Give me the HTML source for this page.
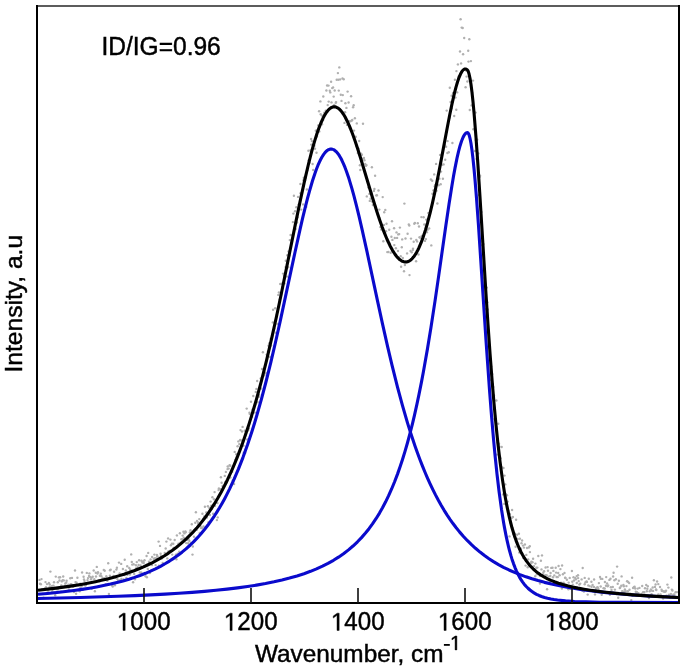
<!DOCTYPE html>
<html><head><meta charset="utf-8"><style>
html,body{margin:0;padding:0;background:#fff;}
body{width:685px;height:669px;overflow:hidden;}
svg{display:block;will-change:transform;font-family:"Liberation Sans",sans-serif;}
</style></head><body>
<svg width="685" height="669" viewBox="0 0 685 669">
<rect width="685" height="669" fill="#fff"/>
<g fill="#b0b0b0"><circle cx="39.5" cy="579.9" r="1.2"/><circle cx="40.0" cy="583.7" r="1.2"/><circle cx="40.9" cy="584.3" r="1.2"/><circle cx="41.5" cy="579.1" r="1.2"/><circle cx="42.1" cy="589.2" r="1.2"/><circle cx="42.6" cy="593.9" r="1.2"/><circle cx="43.5" cy="597.7" r="1.2"/><circle cx="44.9" cy="588.4" r="1.2"/><circle cx="45.5" cy="582.1" r="1.2"/><circle cx="46.0" cy="587.3" r="1.2"/><circle cx="47.0" cy="584.1" r="1.2"/><circle cx="47.3" cy="592.8" r="1.2"/><circle cx="48.2" cy="590.5" r="1.2"/><circle cx="48.9" cy="583.0" r="1.2"/><circle cx="49.5" cy="587.2" r="1.2"/><circle cx="49.7" cy="584.5" r="1.2"/><circle cx="50.4" cy="571.6" r="1.2"/><circle cx="51.1" cy="586.7" r="1.2"/><circle cx="52.2" cy="585.9" r="1.2"/><circle cx="52.4" cy="591.3" r="1.2"/><circle cx="53.5" cy="585.7" r="1.2"/><circle cx="54.0" cy="582.2" r="1.2"/><circle cx="54.6" cy="592.5" r="1.2"/><circle cx="55.2" cy="595.3" r="1.2"/><circle cx="55.8" cy="576.6" r="1.2"/><circle cx="56.5" cy="589.1" r="1.2"/><circle cx="57.6" cy="589.4" r="1.2"/><circle cx="57.8" cy="582.3" r="1.2"/><circle cx="58.9" cy="577.4" r="1.2"/><circle cx="59.5" cy="580.5" r="1.2"/><circle cx="60.1" cy="577.2" r="1.2"/><circle cx="61.0" cy="591.6" r="1.2"/><circle cx="61.3" cy="585.4" r="1.2"/><circle cx="61.8" cy="581.4" r="1.2"/><circle cx="62.7" cy="580.3" r="1.2"/><circle cx="63.2" cy="576.5" r="1.2"/><circle cx="63.8" cy="580.4" r="1.2"/><circle cx="65.1" cy="585.8" r="1.2"/><circle cx="65.3" cy="583.5" r="1.2"/><circle cx="66.2" cy="582.6" r="1.2"/><circle cx="66.6" cy="580.7" r="1.2"/><circle cx="67.1" cy="585.7" r="1.2"/><circle cx="68.4" cy="584.7" r="1.2"/><circle cx="68.9" cy="589.5" r="1.2"/><circle cx="69.6" cy="590.6" r="1.2"/><circle cx="70.3" cy="578.3" r="1.2"/><circle cx="70.7" cy="584.2" r="1.2"/><circle cx="71.4" cy="584.2" r="1.2"/><circle cx="72.0" cy="577.9" r="1.2"/><circle cx="73.0" cy="586.6" r="1.2"/><circle cx="73.3" cy="586.5" r="1.2"/><circle cx="74.0" cy="592.1" r="1.2"/><circle cx="75.0" cy="570.5" r="1.2"/><circle cx="75.5" cy="582.1" r="1.2"/><circle cx="76.1" cy="593.7" r="1.2"/><circle cx="76.6" cy="582.7" r="1.2"/><circle cx="77.4" cy="577.7" r="1.2"/><circle cx="78.4" cy="589.9" r="1.2"/><circle cx="78.5" cy="585.3" r="1.2"/><circle cx="79.7" cy="591.3" r="1.2"/><circle cx="80.3" cy="583.8" r="1.2"/><circle cx="80.5" cy="587.4" r="1.2"/><circle cx="81.7" cy="586.1" r="1.2"/><circle cx="82.1" cy="572.5" r="1.2"/><circle cx="82.7" cy="589.7" r="1.2"/><circle cx="83.6" cy="576.8" r="1.2"/><circle cx="84.0" cy="579.4" r="1.2"/><circle cx="84.5" cy="581.0" r="1.2"/><circle cx="85.3" cy="585.6" r="1.2"/><circle cx="85.9" cy="585.0" r="1.2"/><circle cx="86.8" cy="572.9" r="1.2"/><circle cx="87.5" cy="580.1" r="1.2"/><circle cx="88.0" cy="578.1" r="1.2"/><circle cx="89.0" cy="576.0" r="1.2"/><circle cx="89.4" cy="573.4" r="1.2"/><circle cx="90.2" cy="577.0" r="1.2"/><circle cx="91.0" cy="579.2" r="1.2"/><circle cx="91.7" cy="588.7" r="1.2"/><circle cx="91.9" cy="577.6" r="1.2"/><circle cx="92.7" cy="576.7" r="1.2"/><circle cx="93.7" cy="570.5" r="1.2"/><circle cx="94.3" cy="579.3" r="1.2"/><circle cx="94.9" cy="591.2" r="1.2"/><circle cx="95.8" cy="572.8" r="1.2"/><circle cx="96.0" cy="576.5" r="1.2"/><circle cx="96.8" cy="566.9" r="1.2"/><circle cx="97.5" cy="573.5" r="1.2"/><circle cx="98.0" cy="572.2" r="1.2"/><circle cx="98.7" cy="580.5" r="1.2"/><circle cx="99.6" cy="581.3" r="1.2"/><circle cx="99.9" cy="575.8" r="1.2"/><circle cx="100.8" cy="573.7" r="1.2"/><circle cx="101.4" cy="576.2" r="1.2"/><circle cx="102.4" cy="579.5" r="1.2"/><circle cx="102.8" cy="578.2" r="1.2"/><circle cx="103.8" cy="569.9" r="1.2"/><circle cx="104.4" cy="578.2" r="1.2"/><circle cx="104.7" cy="570.8" r="1.2"/><circle cx="105.8" cy="584.3" r="1.2"/><circle cx="106.3" cy="576.3" r="1.2"/><circle cx="106.6" cy="578.5" r="1.2"/><circle cx="107.3" cy="580.8" r="1.2"/><circle cx="108.2" cy="563.2" r="1.2"/><circle cx="108.9" cy="593.9" r="1.2"/><circle cx="109.9" cy="575.8" r="1.2"/><circle cx="110.0" cy="570.3" r="1.2"/><circle cx="110.7" cy="569.6" r="1.2"/><circle cx="111.7" cy="584.6" r="1.2"/><circle cx="112.3" cy="585.5" r="1.2"/><circle cx="112.7" cy="586.6" r="1.2"/><circle cx="113.4" cy="576.0" r="1.2"/><circle cx="114.1" cy="571.7" r="1.2"/><circle cx="114.9" cy="585.3" r="1.2"/><circle cx="115.4" cy="577.9" r="1.2"/><circle cx="116.4" cy="569.6" r="1.2"/><circle cx="116.9" cy="567.7" r="1.2"/><circle cx="117.3" cy="579.0" r="1.2"/><circle cx="118.2" cy="580.4" r="1.2"/><circle cx="119.0" cy="562.6" r="1.2"/><circle cx="119.6" cy="573.4" r="1.2"/><circle cx="120.1" cy="580.2" r="1.2"/><circle cx="121.2" cy="563.9" r="1.2"/><circle cx="121.4" cy="579.0" r="1.2"/><circle cx="122.1" cy="574.6" r="1.2"/><circle cx="122.9" cy="569.0" r="1.2"/><circle cx="123.5" cy="579.5" r="1.2"/><circle cx="124.5" cy="575.1" r="1.2"/><circle cx="124.7" cy="559.8" r="1.2"/><circle cx="125.8" cy="570.5" r="1.2"/><circle cx="126.4" cy="577.9" r="1.2"/><circle cx="127.2" cy="566.3" r="1.2"/><circle cx="127.4" cy="574.7" r="1.2"/><circle cx="128.3" cy="572.9" r="1.2"/><circle cx="129.2" cy="567.9" r="1.2"/><circle cx="129.9" cy="574.6" r="1.2"/><circle cx="130.2" cy="569.5" r="1.2"/><circle cx="131.2" cy="554.4" r="1.2"/><circle cx="131.8" cy="561.9" r="1.2"/><circle cx="132.2" cy="564.6" r="1.2"/><circle cx="133.1" cy="582.2" r="1.2"/><circle cx="133.6" cy="564.3" r="1.2"/><circle cx="134.2" cy="573.9" r="1.2"/><circle cx="134.9" cy="579.2" r="1.2"/><circle cx="135.9" cy="565.3" r="1.2"/><circle cx="136.3" cy="568.2" r="1.2"/><circle cx="136.8" cy="562.1" r="1.2"/><circle cx="137.7" cy="567.1" r="1.2"/><circle cx="138.6" cy="564.9" r="1.2"/><circle cx="139.1" cy="560.2" r="1.2"/><circle cx="139.8" cy="572.5" r="1.2"/><circle cx="140.6" cy="565.5" r="1.2"/><circle cx="141.2" cy="572.5" r="1.2"/><circle cx="141.4" cy="560.7" r="1.2"/><circle cx="142.4" cy="562.6" r="1.2"/><circle cx="143.2" cy="561.4" r="1.2"/><circle cx="143.7" cy="563.0" r="1.2"/><circle cx="144.5" cy="560.3" r="1.2"/><circle cx="145.1" cy="566.3" r="1.2"/><circle cx="145.6" cy="576.3" r="1.2"/><circle cx="146.6" cy="556.0" r="1.2"/><circle cx="146.9" cy="577.2" r="1.2"/><circle cx="147.8" cy="568.9" r="1.2"/><circle cx="148.2" cy="552.9" r="1.2"/><circle cx="149.0" cy="561.8" r="1.2"/><circle cx="149.9" cy="573.1" r="1.2"/><circle cx="150.6" cy="559.4" r="1.2"/><circle cx="150.8" cy="564.0" r="1.2"/><circle cx="152.0" cy="565.0" r="1.2"/><circle cx="152.1" cy="556.9" r="1.2"/><circle cx="153.2" cy="562.1" r="1.2"/><circle cx="153.7" cy="558.8" r="1.2"/><circle cx="154.4" cy="554.6" r="1.2"/><circle cx="155.1" cy="558.2" r="1.2"/><circle cx="155.6" cy="565.1" r="1.2"/><circle cx="156.7" cy="558.5" r="1.2"/><circle cx="156.9" cy="554.9" r="1.2"/><circle cx="157.4" cy="556.2" r="1.2"/><circle cx="158.6" cy="541.6" r="1.2"/><circle cx="158.9" cy="565.8" r="1.2"/><circle cx="160.0" cy="545.9" r="1.2"/><circle cx="160.6" cy="553.7" r="1.2"/><circle cx="160.9" cy="556.2" r="1.2"/><circle cx="161.8" cy="558.6" r="1.2"/><circle cx="162.7" cy="563.0" r="1.2"/><circle cx="162.7" cy="557.2" r="1.2"/><circle cx="163.8" cy="564.7" r="1.2"/><circle cx="164.6" cy="555.8" r="1.2"/><circle cx="164.8" cy="552.9" r="1.2"/><circle cx="165.7" cy="548.5" r="1.2"/><circle cx="166.4" cy="541.6" r="1.2"/><circle cx="167.3" cy="558.4" r="1.2"/><circle cx="168.1" cy="551.8" r="1.2"/><circle cx="168.1" cy="538.4" r="1.2"/><circle cx="168.8" cy="551.1" r="1.2"/><circle cx="169.7" cy="551.0" r="1.2"/><circle cx="170.4" cy="539.6" r="1.2"/><circle cx="170.9" cy="545.3" r="1.2"/><circle cx="171.9" cy="543.7" r="1.2"/><circle cx="172.2" cy="554.6" r="1.2"/><circle cx="173.3" cy="543.7" r="1.2"/><circle cx="173.6" cy="547.9" r="1.2"/><circle cx="174.7" cy="540.0" r="1.2"/><circle cx="174.8" cy="548.2" r="1.2"/><circle cx="175.9" cy="554.7" r="1.2"/><circle cx="176.4" cy="559.2" r="1.2"/><circle cx="176.9" cy="535.4" r="1.2"/><circle cx="177.6" cy="553.7" r="1.2"/><circle cx="178.5" cy="543.7" r="1.2"/><circle cx="179.2" cy="551.7" r="1.2"/><circle cx="179.9" cy="533.2" r="1.2"/><circle cx="180.6" cy="542.8" r="1.2"/><circle cx="181.4" cy="539.2" r="1.2"/><circle cx="182.1" cy="539.3" r="1.2"/><circle cx="182.7" cy="535.6" r="1.2"/><circle cx="183.4" cy="531.7" r="1.2"/><circle cx="183.8" cy="537.7" r="1.2"/><circle cx="184.4" cy="533.4" r="1.2"/><circle cx="185.4" cy="531.5" r="1.2"/><circle cx="185.6" cy="532.2" r="1.2"/><circle cx="186.2" cy="543.1" r="1.2"/><circle cx="187.2" cy="540.0" r="1.2"/><circle cx="188.1" cy="543.2" r="1.2"/><circle cx="188.6" cy="539.1" r="1.2"/><circle cx="189.4" cy="541.0" r="1.2"/><circle cx="189.9" cy="532.5" r="1.2"/><circle cx="190.5" cy="530.2" r="1.2"/><circle cx="190.8" cy="543.2" r="1.2"/><circle cx="191.8" cy="524.3" r="1.2"/><circle cx="192.5" cy="554.6" r="1.2"/><circle cx="192.8" cy="546.5" r="1.2"/><circle cx="194.0" cy="536.8" r="1.2"/><circle cx="194.4" cy="531.1" r="1.2"/><circle cx="195.3" cy="522.8" r="1.2"/><circle cx="195.9" cy="512.3" r="1.2"/><circle cx="196.6" cy="529.9" r="1.2"/><circle cx="197.0" cy="521.0" r="1.2"/><circle cx="198.2" cy="523.7" r="1.2"/><circle cx="198.3" cy="522.5" r="1.2"/><circle cx="199.3" cy="519.1" r="1.2"/><circle cx="199.7" cy="532.9" r="1.2"/><circle cx="200.5" cy="526.3" r="1.2"/><circle cx="201.1" cy="528.1" r="1.2"/><circle cx="202.0" cy="528.0" r="1.2"/><circle cx="202.4" cy="513.7" r="1.2"/><circle cx="203.5" cy="526.5" r="1.2"/><circle cx="203.7" cy="518.3" r="1.2"/><circle cx="204.2" cy="516.5" r="1.2"/><circle cx="204.9" cy="506.8" r="1.2"/><circle cx="206.1" cy="516.4" r="1.2"/><circle cx="206.3" cy="512.4" r="1.2"/><circle cx="206.9" cy="517.5" r="1.2"/><circle cx="207.9" cy="506.3" r="1.2"/><circle cx="208.5" cy="522.3" r="1.2"/><circle cx="209.4" cy="508.0" r="1.2"/><circle cx="209.9" cy="515.0" r="1.2"/><circle cx="210.6" cy="501.6" r="1.2"/><circle cx="211.2" cy="505.8" r="1.2"/><circle cx="211.8" cy="509.0" r="1.2"/><circle cx="212.4" cy="497.3" r="1.2"/><circle cx="213.1" cy="513.7" r="1.2"/><circle cx="214.0" cy="499.3" r="1.2"/><circle cx="214.6" cy="492.1" r="1.2"/><circle cx="215.0" cy="505.7" r="1.2"/><circle cx="215.6" cy="502.8" r="1.2"/><circle cx="216.9" cy="520.1" r="1.2"/><circle cx="217.5" cy="503.1" r="1.2"/><circle cx="217.7" cy="517.4" r="1.2"/><circle cx="218.6" cy="490.1" r="1.2"/><circle cx="218.9" cy="488.4" r="1.2"/><circle cx="219.7" cy="508.0" r="1.2"/><circle cx="220.3" cy="489.1" r="1.2"/><circle cx="220.9" cy="477.3" r="1.2"/><circle cx="221.6" cy="482.8" r="1.2"/><circle cx="222.6" cy="485.9" r="1.2"/><circle cx="223.1" cy="486.4" r="1.2"/><circle cx="223.6" cy="485.9" r="1.2"/><circle cx="224.8" cy="475.9" r="1.2"/><circle cx="225.2" cy="482.1" r="1.2"/><circle cx="225.9" cy="471.9" r="1.2"/><circle cx="226.5" cy="482.7" r="1.2"/><circle cx="227.5" cy="469.1" r="1.2"/><circle cx="227.7" cy="466.5" r="1.2"/><circle cx="228.6" cy="468.6" r="1.2"/><circle cx="229.6" cy="465.2" r="1.2"/><circle cx="230.3" cy="465.7" r="1.2"/><circle cx="230.4" cy="477.6" r="1.2"/><circle cx="230.9" cy="471.5" r="1.2"/><circle cx="232.2" cy="471.8" r="1.2"/><circle cx="232.9" cy="480.3" r="1.2"/><circle cx="233.3" cy="482.0" r="1.2"/><circle cx="234.1" cy="484.1" r="1.2"/><circle cx="234.7" cy="451.9" r="1.2"/><circle cx="235.3" cy="459.8" r="1.2"/><circle cx="236.2" cy="454.3" r="1.2"/><circle cx="236.5" cy="457.5" r="1.2"/><circle cx="237.6" cy="446.2" r="1.2"/><circle cx="238.2" cy="468.5" r="1.2"/><circle cx="238.4" cy="441.4" r="1.2"/><circle cx="239.3" cy="444.1" r="1.2"/><circle cx="240.1" cy="440.0" r="1.2"/><circle cx="240.5" cy="430.1" r="1.2"/><circle cx="241.4" cy="440.5" r="1.2"/><circle cx="242.0" cy="431.5" r="1.2"/><circle cx="242.6" cy="426.9" r="1.2"/><circle cx="243.5" cy="445.7" r="1.2"/><circle cx="243.7" cy="452.7" r="1.2"/><circle cx="244.7" cy="430.8" r="1.2"/><circle cx="245.2" cy="453.0" r="1.2"/><circle cx="245.9" cy="433.4" r="1.2"/><circle cx="246.7" cy="408.6" r="1.2"/><circle cx="247.2" cy="439.4" r="1.2"/><circle cx="248.1" cy="430.4" r="1.2"/><circle cx="248.9" cy="428.6" r="1.2"/><circle cx="249.5" cy="412.8" r="1.2"/><circle cx="249.8" cy="414.1" r="1.2"/><circle cx="251.0" cy="401.7" r="1.2"/><circle cx="251.2" cy="416.4" r="1.2"/><circle cx="252.1" cy="416.8" r="1.2"/><circle cx="252.4" cy="409.7" r="1.2"/><circle cx="253.3" cy="396.0" r="1.2"/><circle cx="253.7" cy="408.8" r="1.2"/><circle cx="254.9" cy="412.6" r="1.2"/><circle cx="255.4" cy="404.6" r="1.2"/><circle cx="255.8" cy="391.9" r="1.2"/><circle cx="256.4" cy="388.9" r="1.2"/><circle cx="257.2" cy="381.0" r="1.2"/><circle cx="257.8" cy="402.3" r="1.2"/><circle cx="258.9" cy="396.8" r="1.2"/><circle cx="259.2" cy="394.9" r="1.2"/><circle cx="259.7" cy="388.8" r="1.2"/><circle cx="260.7" cy="378.5" r="1.2"/><circle cx="261.1" cy="388.5" r="1.2"/><circle cx="262.0" cy="369.0" r="1.2"/><circle cx="262.9" cy="352.2" r="1.2"/><circle cx="263.2" cy="374.7" r="1.2"/><circle cx="264.3" cy="375.4" r="1.2"/><circle cx="264.5" cy="368.6" r="1.2"/><circle cx="265.5" cy="372.6" r="1.2"/><circle cx="266.1" cy="373.4" r="1.2"/><circle cx="266.7" cy="354.6" r="1.2"/><circle cx="267.2" cy="355.1" r="1.2"/><circle cx="268.1" cy="351.2" r="1.2"/><circle cx="268.5" cy="345.8" r="1.2"/><circle cx="269.3" cy="343.2" r="1.2"/><circle cx="270.1" cy="356.9" r="1.2"/><circle cx="270.7" cy="338.7" r="1.2"/><circle cx="271.1" cy="345.5" r="1.2"/><circle cx="272.2" cy="336.8" r="1.2"/><circle cx="272.8" cy="322.4" r="1.2"/><circle cx="273.1" cy="309.8" r="1.2"/><circle cx="274.3" cy="328.4" r="1.2"/><circle cx="275.0" cy="321.0" r="1.2"/><circle cx="275.2" cy="308.3" r="1.2"/><circle cx="275.9" cy="332.7" r="1.2"/><circle cx="276.8" cy="314.7" r="1.2"/><circle cx="277.5" cy="324.0" r="1.2"/><circle cx="278.3" cy="294.9" r="1.2"/><circle cx="278.9" cy="292.4" r="1.2"/><circle cx="279.6" cy="299.7" r="1.2"/><circle cx="280.2" cy="284.0" r="1.2"/><circle cx="281.1" cy="294.8" r="1.2"/><circle cx="281.7" cy="283.8" r="1.2"/><circle cx="282.2" cy="287.2" r="1.2"/><circle cx="282.7" cy="284.2" r="1.2"/><circle cx="283.1" cy="273.6" r="1.2"/><circle cx="284.0" cy="275.8" r="1.2"/><circle cx="284.5" cy="283.4" r="1.2"/><circle cx="285.6" cy="267.1" r="1.2"/><circle cx="285.8" cy="260.7" r="1.2"/><circle cx="287.1" cy="276.6" r="1.2"/><circle cx="287.3" cy="255.2" r="1.2"/><circle cx="288.2" cy="267.2" r="1.2"/><circle cx="288.5" cy="251.4" r="1.2"/><circle cx="289.4" cy="255.5" r="1.2"/><circle cx="289.8" cy="240.1" r="1.2"/><circle cx="290.6" cy="235.0" r="1.2"/><circle cx="291.4" cy="242.4" r="1.2"/><circle cx="292.4" cy="235.3" r="1.2"/><circle cx="292.9" cy="222.1" r="1.2"/><circle cx="293.4" cy="213.6" r="1.2"/><circle cx="293.9" cy="195.7" r="1.2"/><circle cx="295.1" cy="211.2" r="1.2"/><circle cx="295.7" cy="229.1" r="1.2"/><circle cx="296.3" cy="207.3" r="1.2"/><circle cx="297.0" cy="222.5" r="1.2"/><circle cx="297.5" cy="217.2" r="1.2"/><circle cx="298.0" cy="196.9" r="1.2"/><circle cx="298.6" cy="204.6" r="1.2"/><circle cx="299.7" cy="204.7" r="1.2"/><circle cx="300.4" cy="184.0" r="1.2"/><circle cx="300.5" cy="193.3" r="1.2"/><circle cx="301.2" cy="209.6" r="1.2"/><circle cx="302.4" cy="189.8" r="1.2"/><circle cx="303.1" cy="204.4" r="1.2"/><circle cx="303.5" cy="180.2" r="1.2"/><circle cx="303.8" cy="177.7" r="1.2"/><circle cx="305.1" cy="180.6" r="1.2"/><circle cx="305.4" cy="178.2" r="1.2"/><circle cx="306.2" cy="206.9" r="1.2"/><circle cx="306.9" cy="189.5" r="1.2"/><circle cx="307.4" cy="170.1" r="1.2"/><circle cx="308.4" cy="150.7" r="1.2"/><circle cx="308.7" cy="160.2" r="1.2"/><circle cx="309.6" cy="162.8" r="1.2"/><circle cx="310.4" cy="150.5" r="1.2"/><circle cx="311.1" cy="139.0" r="1.2"/><circle cx="311.2" cy="144.6" r="1.2"/><circle cx="311.9" cy="141.1" r="1.2"/><circle cx="312.6" cy="164.0" r="1.2"/><circle cx="313.2" cy="170.0" r="1.2"/><circle cx="314.4" cy="145.8" r="1.2"/><circle cx="315.0" cy="148.8" r="1.2"/><circle cx="315.8" cy="130.8" r="1.2"/><circle cx="316.5" cy="152.7" r="1.2"/><circle cx="316.9" cy="136.4" r="1.2"/><circle cx="317.3" cy="130.2" r="1.2"/><circle cx="318.2" cy="125.4" r="1.2"/><circle cx="319.1" cy="111.3" r="1.2"/><circle cx="319.3" cy="131.5" r="1.2"/><circle cx="320.4" cy="101.4" r="1.2"/><circle cx="320.7" cy="114.2" r="1.2"/><circle cx="321.8" cy="115.5" r="1.2"/><circle cx="322.0" cy="124.2" r="1.2"/><circle cx="323.1" cy="119.9" r="1.2"/><circle cx="323.3" cy="96.5" r="1.2"/><circle cx="324.3" cy="112.8" r="1.2"/><circle cx="324.6" cy="115.3" r="1.2"/><circle cx="325.7" cy="110.8" r="1.2"/><circle cx="326.4" cy="90.5" r="1.2"/><circle cx="327.1" cy="85.5" r="1.2"/><circle cx="327.7" cy="105.1" r="1.2"/><circle cx="328.5" cy="85.6" r="1.2"/><circle cx="328.7" cy="101.6" r="1.2"/><circle cx="329.8" cy="90.8" r="1.2"/><circle cx="330.3" cy="92.4" r="1.2"/><circle cx="331.1" cy="81.8" r="1.2"/><circle cx="331.5" cy="102.4" r="1.2"/><circle cx="332.2" cy="88.1" r="1.2"/><circle cx="333.1" cy="87.4" r="1.2"/><circle cx="333.7" cy="96.6" r="1.2"/><circle cx="334.2" cy="104.9" r="1.2"/><circle cx="334.7" cy="90.5" r="1.2"/><circle cx="335.8" cy="102.8" r="1.2"/><circle cx="336.1" cy="102.1" r="1.2"/><circle cx="336.7" cy="79.7" r="1.2"/><circle cx="337.9" cy="73.1" r="1.2"/><circle cx="338.3" cy="79.7" r="1.2"/><circle cx="338.8" cy="90.6" r="1.2"/><circle cx="339.3" cy="67.4" r="1.2"/><circle cx="340.1" cy="79.4" r="1.2"/><circle cx="340.8" cy="94.7" r="1.2"/><circle cx="341.5" cy="100.9" r="1.2"/><circle cx="342.5" cy="78.4" r="1.2"/><circle cx="342.8" cy="95.1" r="1.2"/><circle cx="343.7" cy="79.2" r="1.2"/><circle cx="344.5" cy="122.9" r="1.2"/><circle cx="345.1" cy="112.2" r="1.2"/><circle cx="345.4" cy="103.3" r="1.2"/><circle cx="346.4" cy="107.9" r="1.2"/><circle cx="347.1" cy="124.9" r="1.2"/><circle cx="347.6" cy="91.6" r="1.2"/><circle cx="348.6" cy="102.5" r="1.2"/><circle cx="349.1" cy="121.1" r="1.2"/><circle cx="349.7" cy="127.8" r="1.2"/><circle cx="350.5" cy="121.3" r="1.2"/><circle cx="351.1" cy="96.2" r="1.2"/><circle cx="351.8" cy="120.5" r="1.2"/><circle cx="352.3" cy="120.0" r="1.2"/><circle cx="353.1" cy="107.2" r="1.2"/><circle cx="353.7" cy="105.2" r="1.2"/><circle cx="354.0" cy="130.6" r="1.2"/><circle cx="354.9" cy="118.3" r="1.2"/><circle cx="355.8" cy="136.8" r="1.2"/><circle cx="356.5" cy="146.3" r="1.2"/><circle cx="356.8" cy="123.4" r="1.2"/><circle cx="357.8" cy="153.1" r="1.2"/><circle cx="358.4" cy="148.6" r="1.2"/><circle cx="359.2" cy="141.0" r="1.2"/><circle cx="359.9" cy="165.3" r="1.2"/><circle cx="360.3" cy="170.0" r="1.2"/><circle cx="361.1" cy="153.8" r="1.2"/><circle cx="361.9" cy="154.8" r="1.2"/><circle cx="362.4" cy="159.0" r="1.2"/><circle cx="363.0" cy="123.7" r="1.2"/><circle cx="363.9" cy="158.0" r="1.2"/><circle cx="364.4" cy="160.3" r="1.2"/><circle cx="365.2" cy="164.0" r="1.2"/><circle cx="366.0" cy="165.8" r="1.2"/><circle cx="366.5" cy="165.1" r="1.2"/><circle cx="366.8" cy="196.4" r="1.2"/><circle cx="367.8" cy="181.8" r="1.2"/><circle cx="368.4" cy="187.6" r="1.2"/><circle cx="369.4" cy="193.9" r="1.2"/><circle cx="369.8" cy="200.9" r="1.2"/><circle cx="370.5" cy="198.7" r="1.2"/><circle cx="371.2" cy="192.3" r="1.2"/><circle cx="371.9" cy="167.3" r="1.2"/><circle cx="372.1" cy="201.6" r="1.2"/><circle cx="372.9" cy="205.0" r="1.2"/><circle cx="373.9" cy="190.9" r="1.2"/><circle cx="374.4" cy="188.9" r="1.2"/><circle cx="375.1" cy="175.8" r="1.2"/><circle cx="375.8" cy="206.6" r="1.2"/><circle cx="376.3" cy="195.4" r="1.2"/><circle cx="376.9" cy="195.3" r="1.2"/><circle cx="377.8" cy="214.6" r="1.2"/><circle cx="378.5" cy="190.5" r="1.2"/><circle cx="379.3" cy="209.6" r="1.2"/><circle cx="379.4" cy="218.0" r="1.2"/><circle cx="380.3" cy="227.1" r="1.2"/><circle cx="381.2" cy="229.5" r="1.2"/><circle cx="381.4" cy="224.5" r="1.2"/><circle cx="382.7" cy="197.1" r="1.2"/><circle cx="383.3" cy="241.3" r="1.2"/><circle cx="384.0" cy="224.9" r="1.2"/><circle cx="384.2" cy="212.2" r="1.2"/><circle cx="385.3" cy="209.9" r="1.2"/><circle cx="386.0" cy="231.2" r="1.2"/><circle cx="386.5" cy="223.7" r="1.2"/><circle cx="387.3" cy="252.1" r="1.2"/><circle cx="387.8" cy="241.8" r="1.2"/><circle cx="388.4" cy="252.0" r="1.2"/><circle cx="389.2" cy="229.7" r="1.2"/><circle cx="389.6" cy="243.4" r="1.2"/><circle cx="390.7" cy="252.7" r="1.2"/><circle cx="391.4" cy="236.8" r="1.2"/><circle cx="392.0" cy="221.2" r="1.2"/><circle cx="392.4" cy="239.9" r="1.2"/><circle cx="393.0" cy="251.3" r="1.2"/><circle cx="394.1" cy="228.2" r="1.2"/><circle cx="394.3" cy="245.1" r="1.2"/><circle cx="394.8" cy="238.0" r="1.2"/><circle cx="395.9" cy="248.2" r="1.2"/><circle cx="396.5" cy="232.4" r="1.2"/><circle cx="397.1" cy="237.9" r="1.2"/><circle cx="398.0" cy="251.0" r="1.2"/><circle cx="398.2" cy="234.4" r="1.2"/><circle cx="399.2" cy="234.1" r="1.2"/><circle cx="399.9" cy="227.6" r="1.2"/><circle cx="400.7" cy="256.3" r="1.2"/><circle cx="401.1" cy="266.7" r="1.2"/><circle cx="401.8" cy="247.3" r="1.2"/><circle cx="402.2" cy="239.4" r="1.2"/><circle cx="402.8" cy="258.0" r="1.2"/><circle cx="404.0" cy="271.3" r="1.2"/><circle cx="404.4" cy="203.6" r="1.2"/><circle cx="404.9" cy="265.0" r="1.2"/><circle cx="405.5" cy="238.5" r="1.2"/><circle cx="406.2" cy="261.8" r="1.2"/><circle cx="407.1" cy="253.4" r="1.2"/><circle cx="407.6" cy="233.8" r="1.2"/><circle cx="408.8" cy="224.5" r="1.2"/><circle cx="409.3" cy="225.5" r="1.2"/><circle cx="409.5" cy="275.1" r="1.2"/><circle cx="410.6" cy="251.0" r="1.2"/><circle cx="411.0" cy="238.6" r="1.2"/><circle cx="411.7" cy="252.2" r="1.2"/><circle cx="412.8" cy="250.1" r="1.2"/><circle cx="413.0" cy="248.8" r="1.2"/><circle cx="413.7" cy="241.7" r="1.2"/><circle cx="414.3" cy="223.8" r="1.2"/><circle cx="414.9" cy="222.9" r="1.2"/><circle cx="416.1" cy="261.2" r="1.2"/><circle cx="416.3" cy="239.9" r="1.2"/><circle cx="417.1" cy="241.4" r="1.2"/><circle cx="417.8" cy="223.3" r="1.2"/><circle cx="418.5" cy="254.5" r="1.2"/><circle cx="419.0" cy="226.5" r="1.2"/><circle cx="419.5" cy="237.2" r="1.2"/><circle cx="420.4" cy="237.8" r="1.2"/><circle cx="421.4" cy="217.1" r="1.2"/><circle cx="421.7" cy="236.0" r="1.2"/><circle cx="422.4" cy="237.0" r="1.2"/><circle cx="423.0" cy="236.7" r="1.2"/><circle cx="423.6" cy="217.2" r="1.2"/><circle cx="424.3" cy="224.5" r="1.2"/><circle cx="425.0" cy="240.9" r="1.2"/><circle cx="425.9" cy="239.1" r="1.2"/><circle cx="426.2" cy="219.6" r="1.2"/><circle cx="426.9" cy="232.2" r="1.2"/><circle cx="427.6" cy="229.7" r="1.2"/><circle cx="428.3" cy="213.1" r="1.2"/><circle cx="429.2" cy="228.4" r="1.2"/><circle cx="429.6" cy="213.3" r="1.2"/><circle cx="430.9" cy="179.5" r="1.2"/><circle cx="431.3" cy="245.4" r="1.2"/><circle cx="432.2" cy="180.8" r="1.2"/><circle cx="432.4" cy="193.8" r="1.2"/><circle cx="433.4" cy="190.4" r="1.2"/><circle cx="434.2" cy="174.4" r="1.2"/><circle cx="434.8" cy="186.2" r="1.2"/><circle cx="435.2" cy="185.0" r="1.2"/><circle cx="436.1" cy="163.9" r="1.2"/><circle cx="436.5" cy="190.8" r="1.2"/><circle cx="437.4" cy="203.5" r="1.2"/><circle cx="437.7" cy="184.8" r="1.2"/><circle cx="438.7" cy="185.2" r="1.2"/><circle cx="439.4" cy="178.7" r="1.2"/><circle cx="440.1" cy="154.9" r="1.2"/><circle cx="440.7" cy="184.2" r="1.2"/><circle cx="441.0" cy="171.6" r="1.2"/><circle cx="442.1" cy="164.7" r="1.2"/><circle cx="442.9" cy="178.8" r="1.2"/><circle cx="443.6" cy="164.4" r="1.2"/><circle cx="444.2" cy="144.1" r="1.2"/><circle cx="444.7" cy="145.0" r="1.2"/><circle cx="445.2" cy="159.7" r="1.2"/><circle cx="446.1" cy="146.7" r="1.2"/><circle cx="446.7" cy="110.6" r="1.2"/><circle cx="447.4" cy="153.0" r="1.2"/><circle cx="447.6" cy="141.1" r="1.2"/><circle cx="448.8" cy="152.2" r="1.2"/><circle cx="449.5" cy="117.8" r="1.2"/><circle cx="449.8" cy="87.7" r="1.2"/><circle cx="450.6" cy="101.9" r="1.2"/><circle cx="451.6" cy="95.7" r="1.2"/><circle cx="451.7" cy="108.3" r="1.2"/><circle cx="452.4" cy="143.0" r="1.2"/><circle cx="453.0" cy="93.0" r="1.2"/><circle cx="454.2" cy="116.0" r="1.2"/><circle cx="454.9" cy="79.7" r="1.2"/><circle cx="455.5" cy="97.6" r="1.2"/><circle cx="456.3" cy="109.7" r="1.2"/><circle cx="456.4" cy="71.1" r="1.2"/><circle cx="457.2" cy="92.4" r="1.2"/><circle cx="457.9" cy="64.4" r="1.2"/><circle cx="458.6" cy="76.7" r="1.2"/><circle cx="459.0" cy="75.9" r="1.2"/><circle cx="460.0" cy="51.5" r="1.2"/><circle cx="460.6" cy="19.3" r="1.2"/><circle cx="461.1" cy="63.4" r="1.2"/><circle cx="461.7" cy="27.6" r="1.2"/><circle cx="462.7" cy="28.0" r="1.2"/><circle cx="463.1" cy="54.2" r="1.2"/><circle cx="464.2" cy="38.0" r="1.2"/><circle cx="464.8" cy="69.6" r="1.2"/><circle cx="465.6" cy="87.3" r="1.2"/><circle cx="466.1" cy="70.6" r="1.2"/><circle cx="466.6" cy="76.6" r="1.2"/><circle cx="467.4" cy="81.5" r="1.2"/><circle cx="468.2" cy="50.8" r="1.2"/><circle cx="468.5" cy="61.6" r="1.2"/><circle cx="469.3" cy="39.2" r="1.2"/><circle cx="469.8" cy="110.0" r="1.2"/><circle cx="470.9" cy="61.1" r="1.2"/><circle cx="471.6" cy="105.4" r="1.2"/><circle cx="472.2" cy="92.9" r="1.2"/><circle cx="473.0" cy="80.6" r="1.2"/><circle cx="473.3" cy="129.3" r="1.2"/><circle cx="474.1" cy="111.4" r="1.2"/><circle cx="474.9" cy="151.0" r="1.2"/><circle cx="475.6" cy="112.6" r="1.2"/><circle cx="475.8" cy="140.1" r="1.2"/><circle cx="476.6" cy="158.9" r="1.2"/><circle cx="477.2" cy="139.7" r="1.2"/><circle cx="478.3" cy="153.4" r="1.2"/><circle cx="479.0" cy="195.1" r="1.2"/><circle cx="479.6" cy="177.0" r="1.2"/><circle cx="480.1" cy="175.7" r="1.2"/><circle cx="481.0" cy="219.7" r="1.2"/><circle cx="481.4" cy="212.0" r="1.2"/><circle cx="482.2" cy="245.3" r="1.2"/><circle cx="482.6" cy="241.8" r="1.2"/><circle cx="483.4" cy="244.1" r="1.2"/><circle cx="483.8" cy="253.9" r="1.2"/><circle cx="484.6" cy="278.0" r="1.2"/><circle cx="485.5" cy="309.1" r="1.2"/><circle cx="486.2" cy="315.6" r="1.2"/><circle cx="486.8" cy="287.6" r="1.2"/><circle cx="487.3" cy="302.3" r="1.2"/><circle cx="487.8" cy="309.5" r="1.2"/><circle cx="488.7" cy="333.2" r="1.2"/><circle cx="489.7" cy="346.8" r="1.2"/><circle cx="489.8" cy="348.0" r="1.2"/><circle cx="490.5" cy="379.7" r="1.2"/><circle cx="491.2" cy="366.5" r="1.2"/><circle cx="492.3" cy="374.1" r="1.2"/><circle cx="492.8" cy="383.9" r="1.2"/><circle cx="493.3" cy="386.9" r="1.2"/><circle cx="493.9" cy="395.3" r="1.2"/><circle cx="494.5" cy="419.0" r="1.2"/><circle cx="495.1" cy="416.0" r="1.2"/><circle cx="496.4" cy="400.5" r="1.2"/><circle cx="496.9" cy="454.6" r="1.2"/><circle cx="497.6" cy="442.4" r="1.2"/><circle cx="498.3" cy="423.7" r="1.2"/><circle cx="499.0" cy="443.7" r="1.2"/><circle cx="499.5" cy="446.8" r="1.2"/><circle cx="500.0" cy="456.4" r="1.2"/><circle cx="500.7" cy="458.2" r="1.2"/><circle cx="501.7" cy="447.0" r="1.2"/><circle cx="502.1" cy="467.4" r="1.2"/><circle cx="503.0" cy="494.4" r="1.2"/><circle cx="503.5" cy="468.0" r="1.2"/><circle cx="504.3" cy="503.9" r="1.2"/><circle cx="504.5" cy="475.6" r="1.2"/><circle cx="505.3" cy="484.4" r="1.2"/><circle cx="506.0" cy="494.4" r="1.2"/><circle cx="507.0" cy="495.2" r="1.2"/><circle cx="507.7" cy="501.6" r="1.2"/><circle cx="508.3" cy="511.9" r="1.2"/><circle cx="508.6" cy="510.8" r="1.2"/><circle cx="509.5" cy="536.4" r="1.2"/><circle cx="510.0" cy="514.0" r="1.2"/><circle cx="510.7" cy="523.2" r="1.2"/><circle cx="511.8" cy="517.8" r="1.2"/><circle cx="512.1" cy="510.0" r="1.2"/><circle cx="512.9" cy="517.0" r="1.2"/><circle cx="513.3" cy="534.0" r="1.2"/><circle cx="514.3" cy="536.6" r="1.2"/><circle cx="514.9" cy="533.8" r="1.2"/><circle cx="515.6" cy="546.7" r="1.2"/><circle cx="516.1" cy="519.7" r="1.2"/><circle cx="517.1" cy="534.8" r="1.2"/><circle cx="517.7" cy="538.9" r="1.2"/><circle cx="518.0" cy="543.6" r="1.2"/><circle cx="518.9" cy="533.7" r="1.2"/><circle cx="519.3" cy="552.5" r="1.2"/><circle cx="519.9" cy="538.8" r="1.2"/><circle cx="521.0" cy="548.8" r="1.2"/><circle cx="521.5" cy="543.2" r="1.2"/><circle cx="522.1" cy="540.5" r="1.2"/><circle cx="523.0" cy="545.6" r="1.2"/><circle cx="523.3" cy="557.9" r="1.2"/><circle cx="524.0" cy="547.6" r="1.2"/><circle cx="524.9" cy="544.5" r="1.2"/><circle cx="525.6" cy="565.6" r="1.2"/><circle cx="526.3" cy="554.9" r="1.2"/><circle cx="527.0" cy="548.0" r="1.2"/><circle cx="527.7" cy="567.3" r="1.2"/><circle cx="528.2" cy="559.4" r="1.2"/><circle cx="528.8" cy="547.5" r="1.2"/><circle cx="529.8" cy="546.2" r="1.2"/><circle cx="529.9" cy="552.1" r="1.2"/><circle cx="530.9" cy="563.2" r="1.2"/><circle cx="531.4" cy="561.6" r="1.2"/><circle cx="532.5" cy="562.2" r="1.2"/><circle cx="533.1" cy="558.7" r="1.2"/><circle cx="533.3" cy="568.6" r="1.2"/><circle cx="534.0" cy="566.1" r="1.2"/><circle cx="535.2" cy="576.3" r="1.2"/><circle cx="535.4" cy="563.6" r="1.2"/><circle cx="536.3" cy="567.8" r="1.2"/><circle cx="536.9" cy="574.2" r="1.2"/><circle cx="537.3" cy="567.6" r="1.2"/><circle cx="538.3" cy="556.0" r="1.2"/><circle cx="539.2" cy="573.7" r="1.2"/><circle cx="539.9" cy="575.8" r="1.2"/><circle cx="540.0" cy="583.5" r="1.2"/><circle cx="540.9" cy="560.8" r="1.2"/><circle cx="541.5" cy="569.4" r="1.2"/><circle cx="542.0" cy="555.4" r="1.2"/><circle cx="542.7" cy="574.7" r="1.2"/><circle cx="543.3" cy="572.8" r="1.2"/><circle cx="544.1" cy="571.2" r="1.2"/><circle cx="545.2" cy="575.2" r="1.2"/><circle cx="545.6" cy="567.5" r="1.2"/><circle cx="546.6" cy="575.3" r="1.2"/><circle cx="547.1" cy="589.2" r="1.2"/><circle cx="547.6" cy="567.1" r="1.2"/><circle cx="548.0" cy="570.7" r="1.2"/><circle cx="548.7" cy="576.6" r="1.2"/><circle cx="549.6" cy="582.0" r="1.2"/><circle cx="550.3" cy="576.0" r="1.2"/><circle cx="550.6" cy="573.0" r="1.2"/><circle cx="551.3" cy="567.9" r="1.2"/><circle cx="552.5" cy="567.7" r="1.2"/><circle cx="553.0" cy="577.2" r="1.2"/><circle cx="553.4" cy="570.9" r="1.2"/><circle cx="554.3" cy="575.4" r="1.2"/><circle cx="555.1" cy="583.7" r="1.2"/><circle cx="555.7" cy="567.7" r="1.2"/><circle cx="556.1" cy="572.6" r="1.2"/><circle cx="556.6" cy="577.0" r="1.2"/><circle cx="557.8" cy="577.1" r="1.2"/><circle cx="558.2" cy="573.0" r="1.2"/><circle cx="558.6" cy="566.0" r="1.2"/><circle cx="559.6" cy="575.2" r="1.2"/><circle cx="560.4" cy="569.1" r="1.2"/><circle cx="561.0" cy="582.7" r="1.2"/><circle cx="561.9" cy="588.5" r="1.2"/><circle cx="562.1" cy="565.5" r="1.2"/><circle cx="562.9" cy="574.3" r="1.2"/><circle cx="563.6" cy="582.7" r="1.2"/><circle cx="564.5" cy="572.9" r="1.2"/><circle cx="565.1" cy="577.8" r="1.2"/><circle cx="565.5" cy="578.0" r="1.2"/><circle cx="566.2" cy="587.0" r="1.2"/><circle cx="566.9" cy="579.8" r="1.2"/><circle cx="567.4" cy="587.0" r="1.2"/><circle cx="568.4" cy="589.2" r="1.2"/><circle cx="568.7" cy="582.6" r="1.2"/><circle cx="569.7" cy="577.9" r="1.2"/><circle cx="570.2" cy="588.8" r="1.2"/><circle cx="571.2" cy="586.6" r="1.2"/><circle cx="571.9" cy="571.0" r="1.2"/><circle cx="572.3" cy="581.8" r="1.2"/><circle cx="572.7" cy="584.8" r="1.2"/><circle cx="573.5" cy="577.3" r="1.2"/><circle cx="574.0" cy="580.5" r="1.2"/><circle cx="575.2" cy="577.9" r="1.2"/><circle cx="575.9" cy="579.2" r="1.2"/><circle cx="576.7" cy="576.1" r="1.2"/><circle cx="576.8" cy="583.0" r="1.2"/><circle cx="578.0" cy="575.3" r="1.2"/><circle cx="578.1" cy="578.1" r="1.2"/><circle cx="578.7" cy="581.1" r="1.2"/><circle cx="579.4" cy="584.5" r="1.2"/><circle cx="580.2" cy="583.6" r="1.2"/><circle cx="580.8" cy="589.7" r="1.2"/><circle cx="581.6" cy="579.4" r="1.2"/><circle cx="582.6" cy="590.7" r="1.2"/><circle cx="582.7" cy="568.0" r="1.2"/><circle cx="583.9" cy="591.5" r="1.2"/><circle cx="584.7" cy="584.2" r="1.2"/><circle cx="584.7" cy="577.9" r="1.2"/><circle cx="585.5" cy="582.2" r="1.2"/><circle cx="586.5" cy="581.5" r="1.2"/><circle cx="586.9" cy="581.9" r="1.2"/><circle cx="587.7" cy="594.6" r="1.2"/><circle cx="588.3" cy="585.4" r="1.2"/><circle cx="588.8" cy="578.8" r="1.2"/><circle cx="589.6" cy="586.1" r="1.2"/><circle cx="590.4" cy="590.8" r="1.2"/><circle cx="591.4" cy="581.8" r="1.2"/><circle cx="591.6" cy="586.7" r="1.2"/><circle cx="592.6" cy="584.9" r="1.2"/><circle cx="592.8" cy="590.0" r="1.2"/><circle cx="594.0" cy="586.9" r="1.2"/><circle cx="594.1" cy="579.5" r="1.2"/><circle cx="595.0" cy="594.4" r="1.2"/><circle cx="595.9" cy="588.7" r="1.2"/><circle cx="596.4" cy="587.9" r="1.2"/><circle cx="597.3" cy="587.5" r="1.2"/><circle cx="597.7" cy="587.5" r="1.2"/><circle cx="598.5" cy="589.1" r="1.2"/><circle cx="598.9" cy="583.1" r="1.2"/><circle cx="600.0" cy="576.9" r="1.2"/><circle cx="600.7" cy="586.5" r="1.2"/><circle cx="600.8" cy="578.7" r="1.2"/><circle cx="601.7" cy="594.7" r="1.2"/><circle cx="602.3" cy="578.9" r="1.2"/><circle cx="603.0" cy="592.0" r="1.2"/><circle cx="603.6" cy="588.2" r="1.2"/><circle cx="604.7" cy="588.5" r="1.2"/><circle cx="604.9" cy="582.0" r="1.2"/><circle cx="606.0" cy="585.7" r="1.2"/><circle cx="606.2" cy="577.1" r="1.2"/><circle cx="607.1" cy="583.5" r="1.2"/><circle cx="607.6" cy="586.3" r="1.2"/><circle cx="608.2" cy="585.5" r="1.2"/><circle cx="609.4" cy="579.9" r="1.2"/><circle cx="609.9" cy="594.8" r="1.2"/><circle cx="610.5" cy="578.8" r="1.2"/><circle cx="610.9" cy="587.3" r="1.2"/><circle cx="611.5" cy="590.0" r="1.2"/><circle cx="612.8" cy="587.0" r="1.2"/><circle cx="613.1" cy="576.5" r="1.2"/><circle cx="613.6" cy="572.8" r="1.2"/><circle cx="614.4" cy="580.2" r="1.2"/><circle cx="614.9" cy="589.6" r="1.2"/><circle cx="615.9" cy="579.3" r="1.2"/><circle cx="616.6" cy="594.3" r="1.2"/><circle cx="617.1" cy="566.6" r="1.2"/><circle cx="617.7" cy="583.7" r="1.2"/><circle cx="618.2" cy="597.7" r="1.2"/><circle cx="618.9" cy="580.8" r="1.2"/><circle cx="619.8" cy="588.0" r="1.2"/><circle cx="620.2" cy="587.5" r="1.2"/><circle cx="621.3" cy="585.7" r="1.2"/><circle cx="621.6" cy="576.4" r="1.2"/><circle cx="622.2" cy="591.1" r="1.2"/><circle cx="623.4" cy="584.9" r="1.2"/><circle cx="623.8" cy="586.2" r="1.2"/><circle cx="624.2" cy="591.4" r="1.2"/><circle cx="624.9" cy="589.4" r="1.2"/><circle cx="625.8" cy="591.1" r="1.2"/><circle cx="626.4" cy="586.1" r="1.2"/><circle cx="627.1" cy="581.3" r="1.2"/><circle cx="627.9" cy="591.3" r="1.2"/><circle cx="628.2" cy="582.0" r="1.2"/><circle cx="629.2" cy="583.1" r="1.2"/><circle cx="629.5" cy="589.8" r="1.2"/><circle cx="630.3" cy="593.8" r="1.2"/><circle cx="631.3" cy="600.1" r="1.2"/><circle cx="632.1" cy="577.8" r="1.2"/><circle cx="632.5" cy="595.9" r="1.2"/><circle cx="633.1" cy="588.0" r="1.2"/><circle cx="633.9" cy="587.2" r="1.2"/><circle cx="634.6" cy="586.8" r="1.2"/><circle cx="635.2" cy="588.5" r="1.2"/><circle cx="635.8" cy="591.7" r="1.2"/><circle cx="636.7" cy="593.5" r="1.2"/><circle cx="637.0" cy="592.2" r="1.2"/><circle cx="637.7" cy="588.6" r="1.2"/><circle cx="638.5" cy="593.1" r="1.2"/><circle cx="639.4" cy="587.9" r="1.2"/><circle cx="640.7" cy="595.6" r="1.2"/><circle cx="641.5" cy="594.0" r="1.2"/><circle cx="642.1" cy="595.5" r="1.2"/><circle cx="642.2" cy="586.0" r="1.2"/><circle cx="643.1" cy="592.3" r="1.2"/><circle cx="644.2" cy="592.3" r="1.2"/><circle cx="644.6" cy="594.7" r="1.2"/><circle cx="645.0" cy="588.3" r="1.2"/><circle cx="646.2" cy="584.9" r="1.2"/><circle cx="646.8" cy="591.2" r="1.2"/><circle cx="647.3" cy="588.7" r="1.2"/><circle cx="647.8" cy="586.3" r="1.2"/><circle cx="648.5" cy="596.7" r="1.2"/><circle cx="649.0" cy="598.0" r="1.2"/><circle cx="649.7" cy="591.2" r="1.2"/><circle cx="650.9" cy="589.4" r="1.2"/><circle cx="651.5" cy="590.5" r="1.2"/><circle cx="651.6" cy="594.3" r="1.2"/><circle cx="652.7" cy="587.5" r="1.2"/><circle cx="653.1" cy="590.9" r="1.2"/><circle cx="653.9" cy="580.2" r="1.2"/><circle cx="654.9" cy="586.9" r="1.2"/><circle cx="655.6" cy="584.5" r="1.2"/><circle cx="656.0" cy="589.5" r="1.2"/><circle cx="656.3" cy="590.0" r="1.2"/><circle cx="657.1" cy="581.5" r="1.2"/><circle cx="658.3" cy="584.1" r="1.2"/><circle cx="658.3" cy="594.5" r="1.2"/><circle cx="659.2" cy="595.7" r="1.2"/><circle cx="660.0" cy="587.0" r="1.2"/><circle cx="660.6" cy="594.4" r="1.2"/><circle cx="661.6" cy="589.7" r="1.2"/><circle cx="661.9" cy="590.9" r="1.2"/><circle cx="662.8" cy="591.1" r="1.2"/><circle cx="663.1" cy="598.6" r="1.2"/><circle cx="663.8" cy="591.5" r="1.2"/><circle cx="664.7" cy="591.8" r="1.2"/><circle cx="665.5" cy="591.6" r="1.2"/><circle cx="666.0" cy="590.6" r="1.2"/><circle cx="666.5" cy="595.7" r="1.2"/><circle cx="667.4" cy="584.6" r="1.2"/><circle cx="668.4" cy="587.6" r="1.2"/><circle cx="669.0" cy="594.7" r="1.2"/><circle cx="670.1" cy="597.6" r="1.2"/><circle cx="670.9" cy="593.9" r="1.2"/><circle cx="671.3" cy="577.5" r="1.2"/><circle cx="671.9" cy="589.6" r="1.2"/><circle cx="672.4" cy="590.5" r="1.2"/><circle cx="673.2" cy="594.8" r="1.2"/><circle cx="674.3" cy="594.5" r="1.2"/><circle cx="674.3" cy="596.0" r="1.2"/><circle cx="675.6" cy="592.3" r="1.2"/><circle cx="675.8" cy="597.7" r="1.2"/><circle cx="677.0" cy="592.1" r="1.2"/></g>
<g fill="none" stroke-width="3.1" stroke-linejoin="round">
<path d="M38.00,594.26 L47.50,593.43 L57.00,592.50 L65.50,591.55 L74.00,590.49 L82.00,589.37 L89.50,588.19 L96.50,586.96 L103.50,585.60 L110.50,584.09 L117.00,582.52 L123.00,580.93 L129.00,579.17 L134.50,577.39 L140.00,575.44 L145.50,573.30 L150.50,571.16 L155.50,568.83 L160.50,566.28 L165.00,563.77 L169.50,561.05 L174.00,558.09 L178.00,555.24 L182.00,552.16 L186.00,548.83 L190.00,545.24 L193.50,541.86 L197.50,537.69 L201.00,533.77 L204.50,529.56 L208.00,525.04 L211.50,520.20 L214.50,515.77 L217.00,511.86 L219.50,507.76 L222.00,503.44 L224.50,498.90 L227.00,494.13 L229.50,489.12 L234.00,479.44 L238.50,468.87 L243.00,457.35 L247.50,444.82 L252.00,431.21 L254.50,423.18 L257.00,414.80 L261.50,398.84 L266.00,381.76 L271.00,361.51 L275.50,342.24 L280.00,322.13 L295.00,252.21 L300.00,229.55 L302.50,218.71 L305.00,208.32 L307.50,198.47 L309.50,191.05 L312.50,180.80 L315.00,173.17 L316.50,169.03 L318.00,165.24 L319.50,161.82 L320.50,159.74 L322.00,156.96 L323.50,154.58 L325.00,152.62 L326.00,151.54 L327.50,150.29 L328.50,149.69 L330.00,149.16 L331.00,149.05 L332.00,149.14 L333.50,149.63 L334.50,150.21 L336.00,151.43 L337.00,152.49 L338.50,154.42 L339.50,155.94 L341.00,158.56 L342.00,160.53 L343.50,163.80 L345.00,167.44 L346.50,171.44 L349.00,178.86 L352.00,188.87 L354.00,196.15 L356.50,205.85 L359.00,216.12 L362.00,229.06 L367.00,251.69 L378.00,303.19 L382.50,323.89 L387.50,346.12 L392.00,365.20 L397.50,387.15 L402.50,405.68 L407.50,422.81 L410.00,430.86 L412.50,438.57 L415.00,445.94 L417.50,452.98 L420.00,459.70 L422.50,466.12 L425.00,472.23 L427.50,478.06 L430.00,483.61 L433.00,489.91 L435.50,494.89 L438.50,500.54 L441.00,505.00 L444.00,510.06 L447.00,514.83 L450.00,519.32 L453.00,523.54 L456.00,527.52 L459.50,531.86 L463.50,536.47 L467.50,540.73 L471.50,544.66 L475.50,548.30 L480.00,552.07 L484.50,555.52 L489.00,558.69 L493.50,561.61 L498.50,564.57 L503.50,567.27 L509.00,569.97 L514.50,572.42 L520.00,574.64 L526.00,576.84 L532.00,578.82 L538.00,580.61 L544.50,582.37 L551.50,584.06 L558.50,585.58 L566.00,587.04 L573.50,588.33 L582.00,589.64 L590.50,590.80 L599.50,591.89 L609.00,592.90 L619.00,593.83 L629.50,594.69 L640.50,595.47 L652.50,596.22 L678.00,597.49" stroke="#0a0acc"/>
<path d="M38.00,598.47 L80.50,597.49 L118.00,596.30 L135.00,595.63 L150.50,594.92 L165.00,594.15 L179.00,593.29 L192.00,592.38 L204.50,591.37 L216.00,590.31 L227.00,589.15 L237.50,587.89 L247.50,586.52 L256.50,585.12 L265.50,583.53 L274.00,581.83 L282.00,580.02 L289.50,578.11 L297.00,575.96 L304.00,573.69 L310.50,571.33 L316.50,568.89 L322.50,566.17 L328.00,563.39 L333.50,560.29 L338.50,557.17 L343.50,553.71 L348.50,549.86 L353.00,546.02 L357.50,541.77 L361.50,537.61 L365.50,533.05 L369.00,528.68 L372.50,523.92 L376.00,518.73 L379.50,513.07 L382.50,507.79 L385.50,502.08 L388.50,495.91 L391.50,489.22 L394.50,481.98 L397.50,474.11 L400.00,467.05 L402.50,459.49 L405.00,451.40 L407.50,442.73 L410.00,433.45 L412.50,423.52 L414.50,415.09 L417.00,403.90 L419.00,394.43 L421.50,381.89 L423.50,371.31 L427.50,348.64 L431.00,327.22 L435.00,301.11 L438.50,277.13 L446.00,224.48 L449.00,204.16 L452.00,185.14 L453.50,176.33 L455.00,168.10 L457.00,158.18 L458.50,151.65 L460.00,145.97 L461.50,141.23 L463.00,137.48 L464.00,135.55 L464.50,134.77 L465.50,133.56 L466.00,133.14 L466.50,132.84 L467.00,132.67 L467.50,132.61 L468.00,132.87 L468.50,133.56 L469.00,134.70 L469.50,136.27 L470.00,138.27 L471.00,143.52 L472.00,150.38 L473.00,158.75 L474.00,168.51 L475.00,179.52 L476.50,198.06 L478.50,225.75 L486.00,340.34 L489.50,389.97 L491.50,415.56 L493.50,438.86 L495.00,454.80 L497.00,474.02 L499.00,491.03 L501.50,509.39 L503.50,521.98 L504.50,527.64 L506.00,535.40 L507.00,540.12 L508.50,546.59 L509.50,550.52 L511.00,555.88 L512.00,559.14 L513.50,563.59 L515.00,567.56 L516.50,571.10 L518.00,574.26 L519.50,577.09 L521.00,579.61 L522.50,581.86 L524.00,583.88 L526.00,586.24 L528.00,588.27 L530.00,590.03 L532.00,591.55 L534.00,592.87 L536.50,594.28 L539.00,595.46 L541.50,596.45 L544.50,597.44 L547.50,598.25 L551.00,599.02 L554.00,599.56 L557.50,600.07 L565.50,600.90 L574.50,601.48 L586.00,601.91 L599.50,602.18 L617.50,602.36 L678.00,602.51" stroke="#0a0acc"/>
<path d="M38.00,590.18 L54.00,588.40 L69.00,586.37 L82.50,584.18 L89.00,582.98 L95.50,581.66 L101.50,580.33 L107.50,578.89 L113.00,577.45 L118.50,575.88 L124.00,574.18 L129.00,572.50 L134.00,570.69 L139.00,568.72 L143.50,566.81 L148.00,564.75 L152.50,562.53 L156.50,560.41 L160.50,558.13 L164.50,555.70 L168.50,553.08 L172.50,550.27 L176.50,547.25 L180.00,544.41 L183.50,541.39 L187.00,538.17 L190.50,534.72 L193.50,531.58 L197.00,527.68 L200.00,524.13 L204.00,519.05 L207.50,514.27 L211.00,509.16 L214.50,503.68 L218.00,497.81 L221.00,492.45 L224.50,485.79 L227.50,479.70 L231.00,472.13 L234.00,465.22 L237.00,457.90 L240.00,450.15 L243.00,441.95 L246.00,433.29 L249.00,424.14 L251.50,416.13 L254.00,407.78 L256.50,399.06 L261.50,380.53 L266.50,360.55 L272.00,336.96 L276.50,316.52 L281.00,295.20 L295.50,223.61 L300.00,201.85 L304.50,181.12 L308.50,164.00 L311.00,154.11 L313.00,146.72 L315.00,139.85 L317.00,133.53 L319.00,127.82 L321.00,122.74 L323.00,118.32 L325.00,114.60 L326.50,112.27 L327.50,110.95 L329.00,109.31 L330.00,108.44 L331.00,107.76 L332.50,107.08 L333.50,106.86 L335.00,106.87 L336.00,107.10 L337.50,107.79 L338.50,108.46 L340.00,109.78 L341.00,110.87 L342.50,112.81 L343.50,114.30 L345.00,116.81 L347.50,121.70 L350.00,127.38 L352.50,133.77 L355.00,140.77 L357.50,148.25 L360.50,157.75 L372.00,196.06 L377.00,212.02 L379.50,219.52 L382.00,226.59 L384.50,233.19 L387.00,239.23 L390.00,245.68 L392.50,250.33 L395.00,254.26 L396.50,256.26 L397.50,257.43 L399.00,258.95 L400.00,259.80 L401.50,260.82 L402.50,261.33 L404.00,261.82 L405.00,261.97 L406.50,261.92 L407.50,261.70 L409.00,261.08 L410.00,260.47 L411.00,259.71 L412.00,258.78 L413.50,257.09 L414.50,255.76 L416.50,252.59 L418.00,249.77 L419.00,247.68 L421.00,242.98 L423.00,237.59 L425.50,229.89 L427.50,222.97 L430.00,213.39 L432.50,202.83 L435.00,191.37 L437.00,181.64 L439.50,168.90 L447.00,128.94 L449.50,116.02 L452.00,103.88 L454.50,92.95 L456.00,87.13 L457.50,81.99 L459.00,77.60 L460.50,74.04 L461.50,72.16 L462.00,71.38 L463.00,70.14 L464.00,69.34 L464.50,69.10 L465.00,68.99 L465.50,68.99 L466.00,69.10 L466.50,69.33 L467.00,69.68 L467.50,70.15 L468.00,70.92 L468.50,72.13 L469.00,73.77 L470.00,78.34 L471.00,84.57 L472.00,92.39 L473.00,101.70 L474.00,112.38 L476.00,137.30 L478.00,165.96 L480.00,197.10 L486.00,294.00 L488.00,324.47 L490.00,353.04 L492.00,379.39 L494.00,403.38 L496.00,424.98 L498.00,444.26 L500.00,461.34 L502.50,479.87 L504.50,492.65 L505.50,498.43 L507.00,506.40 L508.00,511.27 L509.50,517.99 L512.00,527.76 L514.50,536.01 L516.00,540.32 L517.50,544.23 L519.00,547.77 L521.00,551.97 L522.50,554.80 L524.50,558.17 L526.50,561.15 L529.00,564.41 L531.00,566.70 L533.50,569.23 L536.00,571.45 L538.50,573.39 L541.50,575.44 L544.50,577.23 L547.50,578.79 L551.00,580.40 L554.50,581.80 L558.50,583.21 L563.00,584.60 L567.50,585.81 L572.50,586.99 L578.00,588.14 L584.00,589.23 L590.00,590.20 L596.50,591.13 L603.50,592.01 L619.00,593.65 L636.50,595.10 L656.00,596.36 L678.00,597.46" stroke="#000"/>
</g>
<rect x="36" y="5" width="644" height="2" fill="#5c5c5c"/>
<rect x="36" y="5" width="2" height="599" fill="#000"/>
<rect x="678" y="5" width="2" height="599" fill="#000"/>
<rect x="36" y="602" width="644" height="2" fill="#000"/>
<g fill="#111"><rect x="143.20" y="588" width="1.6" height="15"/><rect x="250.20" y="588" width="1.6" height="15"/><rect x="357.20" y="588" width="1.6" height="15"/><rect x="464.20" y="588" width="1.6" height="15"/><rect x="571.20" y="588" width="1.6" height="15"/></g>
<g font-size="25" fill="#000" stroke="#000" stroke-width="0.45"><g transform="translate(116.95,630.4) scale(0.965,1)"><path d="M515 0L515 1237L197 1010L197 1180L530 1409L696 1409L696 0Z" transform="scale(0.012207,-0.012207)" stroke-width="38"/><text x="13.90" y="0" font-size="25">000</text></g><g transform="translate(223.95,630.4) scale(0.965,1)"><path d="M515 0L515 1237L197 1010L197 1180L530 1409L696 1409L696 0Z" transform="scale(0.012207,-0.012207)" stroke-width="38"/><text x="13.90" y="0" font-size="25">200</text></g><g transform="translate(330.95,630.4) scale(0.965,1)"><path d="M515 0L515 1237L197 1010L197 1180L530 1409L696 1409L696 0Z" transform="scale(0.012207,-0.012207)" stroke-width="38"/><text x="13.90" y="0" font-size="25">400</text></g><g transform="translate(437.95,630.4) scale(0.965,1)"><path d="M515 0L515 1237L197 1010L197 1180L530 1409L696 1409L696 0Z" transform="scale(0.012207,-0.012207)" stroke-width="38"/><text x="13.90" y="0" font-size="25">600</text></g><g transform="translate(544.95,630.4) scale(0.965,1)"><path d="M515 0L515 1237L197 1010L197 1180L530 1409L696 1409L696 0Z" transform="scale(0.012207,-0.012207)" stroke-width="38"/><text x="13.90" y="0" font-size="25">800</text></g><path d="M515 0L515 1237L197 1010L197 1180L530 1409L696 1409L696 0Z" transform="translate(450.0,649.9) scale(0.009863,-0.009863)" stroke-width="45"/><rect x="443.9" y="644.0" width="5.9" height="1.8" stroke="none"/>
<text transform="translate(101.4,54.5) scale(0.982,1)">ID/IG=0.96</text>
<text transform="translate(254.9,661.5) scale(1.0156,1)" font-size="24">Wavenumber, cm</text>
<text transform="translate(22.0,372.6) rotate(-90) scale(1.026,1)" font-size="24">Intensity, a.u</text>
</g>
</svg>
</body></html>
